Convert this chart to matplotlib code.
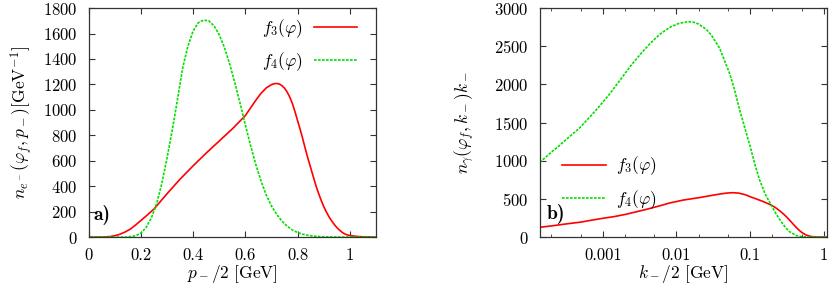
import numpy as np
import matplotlib
matplotlib.use("Agg")
import matplotlib.pyplot as plt
from matplotlib.ticker import FixedLocator, FixedFormatter, NullFormatter

plt.rcParams['mathtext.fontset'] = 'cm'
plt.rcParams['font.family'] = ['cmr10', 'DejaVu Serif']
plt.rcParams['axes.formatter.use_mathtext'] = True

# ---- panel a) data ----
pa_x_f3 = [0, 0.05, 0.08, 0.10, 0.12, 0.14, 0.16, 0.18, 0.20, 0.22, 0.25, 0.30, 0.35, 0.40,
           0.45, 0.50, 0.55, 0.60, 0.62, 0.64, 0.66, 0.68, 0.70, 0.71, 0.72, 0.73, 0.74,
           0.75, 0.76, 0.77, 0.78, 0.79, 0.80, 0.81, 0.82, 0.83, 0.84, 0.85, 0.86, 0.87,
           0.88, 0.89, 0.90, 0.91, 0.92, 0.93, 0.94, 0.95, 0.96, 0.97, 0.98, 0.99, 1.00,
           1.03, 1.06, 1.10]
pa_y_f3 = [0, 0, 3, 10, 22, 40, 63, 95, 130, 165, 220, 340, 455, 560,
           660, 755, 850, 955, 1015, 1075, 1130, 1172, 1198, 1205, 1207, 1203, 1190,
           1170, 1140, 1100, 1050, 985, 915, 845, 770, 690, 615, 545, 475, 405,
           345, 290, 240, 198, 160, 128, 100, 75, 55, 38, 25, 17, 12,
           4, 1, 0]
pa_x_f4 = [0, 0.10, 0.14, 0.16, 0.18, 0.20, 0.22, 0.24, 0.26, 0.28, 0.30, 0.32, 0.34, 0.36,
           0.38, 0.40, 0.42, 0.44, 0.46, 0.48, 0.50, 0.52, 0.54, 0.56, 0.58, 0.60, 0.62,
           0.64, 0.66, 0.68, 0.70, 0.72, 0.74, 0.76, 0.78, 0.80, 0.82, 0.84, 0.86, 0.88,
           0.90, 0.95, 1.10]
pa_y_f4 = [0, 0, 0, 3, 10, 30, 75, 150, 260, 420, 620, 840, 1080, 1330,
           1500, 1620, 1685, 1705, 1700, 1660, 1590, 1490, 1360, 1210, 1050, 880, 720,
           570, 440, 330, 245, 178, 125, 85, 55, 35, 22, 13, 7, 4,
           2, 0, 0]
pa_xticks = [0, 0.2, 0.4, 0.6, 0.8, 1.0]
pa_xticklabels = ['0', '0.2', '0.4', '0.6', '0.8', '1']
pa_yticks = [0, 200, 400, 600, 800, 1000, 1200, 1400, 1600, 1800]

# ---- panel b) data ----
pb_x_f4 = [1.4e-4, 2e-4, 2.6e-4, 3.4e-4, 4.8e-4, 6.5e-4, 8.9e-4, 1.26e-3, 1.7e-3, 2.34e-3,
           3.2e-3, 4.4e-3, 6e-3, 8.1e-3, 0.0105, 0.0123, 0.0144, 0.017, 0.02, 0.0254,
           0.03, 0.0385, 0.0525, 0.06, 0.072, 0.085, 0.1, 0.115, 0.134, 0.16, 0.192,
           0.225, 0.263, 0.3, 0.34, 0.42, 0.51, 0.6, 0.8, 1.11]
pb_y_f4 = [978, 1110, 1200, 1300, 1424, 1560, 1707, 1882, 2050, 2231,
           2390, 2537, 2660, 2747, 2795, 2810, 2821, 2815, 2790, 2720,
           2640, 2472, 2144, 1960, 1664, 1420, 1183, 960, 747, 560, 419,
           300, 201, 125, 70, 20, 4, 1, 0, 0]
pb_x_f3 = [1.4e-4, 2e-4, 3.4e-4, 5e-4, 7e-4, 1e-3, 1.4e-3, 2e-3, 2.7e-3, 4e-3, 6e-3, 8e-3,
           0.0125, 0.02, 0.03, 0.0385, 0.048, 0.058, 0.07, 0.085, 0.1, 0.12, 0.15,
           0.192, 0.22, 0.25, 0.28, 0.306, 0.35, 0.40, 0.45, 0.50, 0.57, 0.65, 0.75,
           0.85, 1.11]
pb_y_f3 = [127, 145, 175, 195, 220, 245, 266, 295, 325, 365, 410, 445,
           485, 515, 545, 563, 576, 581, 575, 555, 528, 500, 465,
           419, 385, 345, 305, 270, 210, 148, 97, 60, 27, 9, 1,
           0, 0]
pb_xticks = [0.001, 0.01, 0.1, 1]
pb_xticklabels = ['0.001', '0.01', '0.1', '1']
pb_yticks = [0, 500, 1000, 1500, 2000, 2500, 3000]

RED = '#ff0000'
GREEN = '#00e000'
FS = 12

fig = plt.figure(figsize=(8.31, 2.88), dpi=100)
ax1 = fig.add_axes([0.1067, 0.177, 0.3457, 0.795])
ax2 = fig.add_axes([0.6495, 0.177, 0.3461, 0.795])

for ax in (ax1, ax2):
    ax.tick_params(direction='in', top=True, right=True, labelsize=FS, length=4, width=0.8,
                   color='#333333', pad=8)
    ax.tick_params(which='minor', direction='in', top=True, right=True, length=2.5, width=0.6,
                   color='#333333')
    for s in ax.spines.values():
        s.set_linewidth(0.9)
        s.set_color('#333333')

# panel a
ax1.plot(pa_x_f3, pa_y_f3, color=RED, lw=1.2, label=r'$f_3(\varphi)$')
ax1.plot(pa_x_f4, pa_y_f4, color=GREEN, lw=1.2, dashes=(1.6, 0.8), label=r'$f_4(\varphi)$')
ax1.set_xlim(0, 1.1)
ax1.set_ylim(0, 1800)
ax1.set_xticks(pa_xticks)
ax1.set_xticklabels(pa_xticklabels)
ax1.set_yticks(pa_yticks)
ax1.set_xlabel(r'$p_-/2\ [\mathrm{GeV}]$', fontsize=FS + 0.5, labelpad=0)
ax1.set_ylabel(r'$n_{e^-}(\varphi_f, p_-)[\mathrm{GeV}^{-1}]$', fontsize=FS + 0.5, labelpad=6)
ax1.text(0.016, 0.074, 'a)', family='cmb10', transform=ax1.transAxes, fontsize=14,
         ha='left', va='baseline')
ax1.legend(loc='upper right', frameon=False, markerfirst=False, fontsize=FS + 0.5,
           handlelength=2.5, handletextpad=0.6, labelspacing=0.6,
           borderaxespad=0.0, bbox_to_anchor=(0.958, 0.99))

# panel b
ax2.plot(pb_x_f3, pb_y_f3, color=RED, lw=1.2, label=r'$f_3(\varphi)$')
ax2.plot(pb_x_f4, pb_y_f4, color=GREEN, lw=1.2, dashes=(1.6, 0.8), label=r'$f_4(\varphi)$')
ax2.set_xscale('log')
ax2.set_xlim(1.4e-4, 1.11)
ax2.set_ylim(0, 3000)
ax2.xaxis.set_major_locator(FixedLocator(pb_xticks))
ax2.xaxis.set_major_formatter(FixedFormatter(pb_xticklabels))
minors = [m * 10.0 ** e for e in range(-4, 1) for m in (2, 5)]
ax2.xaxis.set_minor_locator(FixedLocator(minors))
ax2.xaxis.set_minor_formatter(NullFormatter())
ax2.set_yticks(pb_yticks)
ax2.set_xlabel(r'$k_-/2\ [\mathrm{GeV}]$', fontsize=FS + 0.5, labelpad=0)
ax2.set_ylabel(r'$n_\gamma(\varphi_f, k_-)k_-$', fontsize=FS + 0.5, labelpad=12)
ax2.text(0.025, 0.078, 'b)', family='cmb10', transform=ax2.transAxes, fontsize=14,
         ha='left', va='baseline')
ax2.legend(loc='lower left', frameon=False, markerfirst=True, fontsize=FS + 0.5,
           handlelength=2.5, handletextpad=0.6, labelspacing=0.6,
           borderaxespad=0.0, bbox_to_anchor=(0.055, 0.085))

fig.savefig('out.png', dpi=100)
